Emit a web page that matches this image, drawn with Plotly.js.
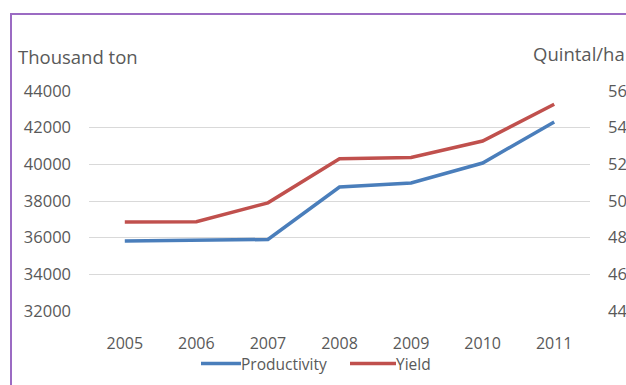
<!DOCTYPE html>
<html>
<head>
<meta charset="utf-8">
<script src="https://cdn.plot.ly/plotly-3.0.1.min.js"></script>
<style>
html,body{margin:0;padding:0;width:626px;height:385px;overflow:hidden;background:#fff;}
#chart{position:absolute;left:0;top:0;width:680px;height:385px;}
#frame{position:absolute;left:10px;top:13px;width:720px;height:500px;border:2px solid #9b6bc3;pointer-events:none;}
</style>
</head>
<body>
<div id="chart"></div>
<div id="frame"></div>
<script>
const years = ['2005','2006','2007','2008','2009','2010','2011'];
const productivity = [35820, 35840, 35900, 38760, 38980, 40070, 42310];
const yieldQ = [48.86, 48.87, 49.9, 52.31, 52.37, 53.27, 55.28];
const leftTicks = [32000, 34000, 36000, 38000, 40000, 42000, 44000];
const rightTicks = [44, 46, 48, 50, 52, 54, 56];

const font = {family: 'Open Sans, sans-serif', size: 16.5, color: '#595959'};
const xFont = {family: 'Open Sans, sans-serif', size: 16, color: '#595959'};
const legFont = {family: 'Open Sans, sans-serif', size: 15.5, color: '#595959'};
const titleFont = {family: 'Open Sans, sans-serif', size: 18.5, color: '#595959'};

const traces = [
  {x: years, y: productivity, name: 'Productivity', type: 'scatter', mode: 'lines',
   line: {color: '#4a7ebb', width: 3.5}, yaxis: 'y'},
  {x: years, y: yieldQ, name: 'Yield', type: 'scatter', mode: 'lines',
   line: {color: '#c0504d', width: 3.5}, yaxis: 'y2'}
];

const layout = {
  width: 680, height: 385,
  margin: {l: 89, r: 90, t: 91, b: 74, autoexpand: false},
  paper_bgcolor: 'rgba(0,0,0,0)', plot_bgcolor: 'rgba(0,0,0,0)',
  font: font,
  showlegend: true,
  legend: {orientation: 'h', xref: 'container', yref: 'container',
           x: 356/680, y: 1 - 364/385, xanchor: 'center', yanchor: 'middle',
           font: legFont, itemwidth: 30, tracegroupgap: 0, entrywidth: 110},
  xaxis: {type: 'category', range: [-0.5, 6.5], showgrid: false, zeroline: false,
          showline: false, ticks: '', tickfont: xFont, ticklabelstandoff: 21},
  yaxis: {range: [32000, 44000], tickvals: leftTicks, ticktext: leftTicks.map(String),
          showgrid: true, gridcolor: '#d9d9d9', gridwidth: 1, zeroline: false,
          showline: false, ticks: '', tickfont: font, ticklabelstandoff: 17},
  yaxis2: {range: [44, 56], tickvals: rightTicks, ticktext: rightTicks.map(String),
           overlaying: 'y', side: 'right', showgrid: false, zeroline: false,
           showline: false, ticks: '', tickfont: font, ticklabelstandoff: 17},
  annotations: [
    {text: 'Thousand ton', xref: 'paper', yref: 'paper', x: (16-89)/501, y: (311-56.7)/220,
     xanchor: 'left', yanchor: 'middle', showarrow: false, font: titleFont},
    {text: 'Quintal/ha', xref: 'paper', yref: 'paper', x: (531-89)/501, y: (311-53.3)/220,
     xanchor: 'left', yanchor: 'middle', showarrow: false, font: titleFont}
  ]
};

Plotly.newPlot('chart', traces, layout, {displayModeBar: false, staticPlot: true}).then(function(gd){
  // lengthen legend line samples to match the reference's longer swatches
  gd.querySelectorAll('.legend .legendlines path').forEach(function(p){
    p.setAttribute('d', 'M-6,0h46');
  });
});
</script>
</body>
</html>
